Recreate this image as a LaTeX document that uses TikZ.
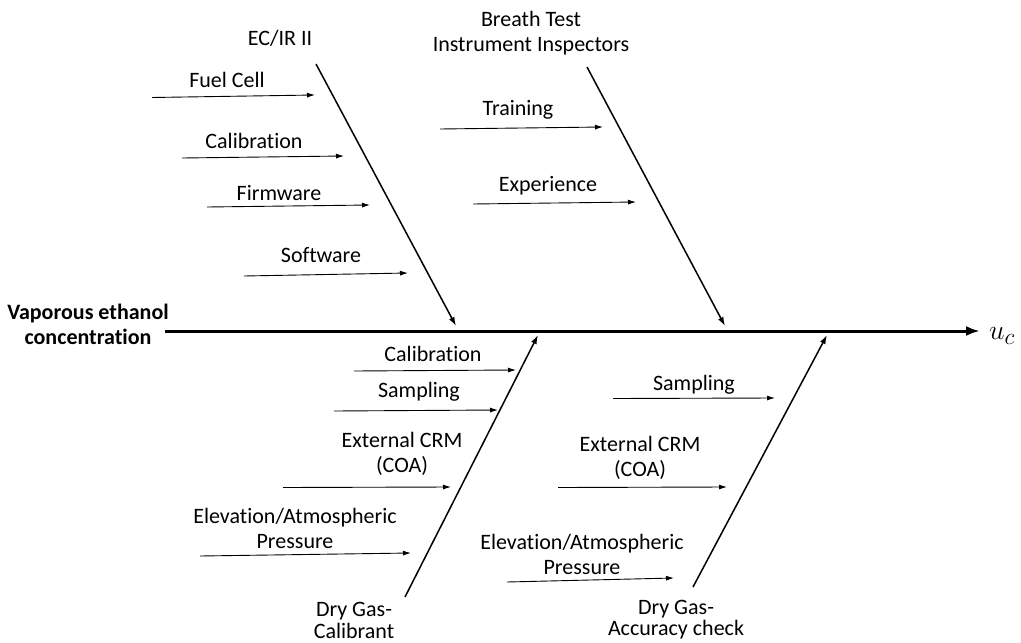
\documentclass[tikz,border=0pt]{standalone}
\usepackage{fontspec}
\setmainfont{Carlito}[Ligatures={NoCommon}]
\usetikzlibrary{arrows.meta}
\begin{document}
\begin{tikzpicture}[x=1pt,y=-1pt,
  lab/.style={inner sep=0pt,font=\fontsize{22}{25}\selectfont,align=center},
  spine/.style={line width=3pt,-{Latex[length=14pt,width=10pt]}},
  bone/.style={line width=1.5pt,-{Latex[length=9pt,width=6pt]}},
  sub/.style={line width=0.9pt,-{Latex[length=8pt,width=5pt]}}]
\useasboundingbox (0,0) rectangle (1021,643);
% head / effect
\node[lab,font=\fontsize{22}{25}\selectfont\bfseries] (eff) at (88,324) {Vaporous ethanol\\concentration};
\coordinate (s0) at (165,331);
\coordinate (s1) at (980,331);
\draw[spine] (s0) -- (s1);
\node[inner sep=0pt,anchor=west] (uc) at (989,336) {\scalebox{1.12}{\fontsize{24.88}{26}\selectfont$u_c$}};
% ---- top-left bone: EC/IR II
\node[lab] (ecir) at (280,38) {EC/IR II};
\coordinate (b1s) at (316,64);
\coordinate (b1e) at (456,326);
\draw[bone] (b1s) -- (b1e);
\node[lab] (fc) at (227,80) {Fuel Cell};
\coordinate (fc1) at (152,97.5); \coordinate (fc2) at (315,95);
\draw[sub] (fc1) -- (fc2);
\node[lab] (cal1) at (254,141) {Calibration};
\coordinate (cal1a) at (182,158); \coordinate (cal1b) at (344,156);
\draw[sub] (cal1a) -- (cal1b);
\node[lab] (fw) at (279,193) {Firmware};
\coordinate (fw1) at (207,207); \coordinate (fw2) at (370,205);
\draw[sub] (fw1) -- (fw2);
\node[lab] (sw) at (321,255) {Software};
\coordinate (sw1) at (244,276); \coordinate (sw2) at (408,273);
\draw[sub] (sw1) -- (sw2);
% ---- top-right bone: Breath Test Instrument Inspectors
\node[lab] (bt) at (531,33) {Breath Test\\Instrument Inspectors};
\coordinate (b2s) at (587,67);
\coordinate (b2e) at (725,326);
\draw[bone] (b2s) -- (b2e);
\node[lab] (tr) at (518,110) {Training};
\coordinate (tr1) at (440,129); \coordinate (tr2) at (603,127);
\draw[sub] (tr1) -- (tr2);
\node[lab] (ex) at (548,186) {Experience};
\coordinate (ex1) at (473,204); \coordinate (ex2) at (636,202);
\draw[sub] (ex1) -- (ex2);
% ---- bottom-left bone: Dry Gas-Calibrant
\node[lab,font=\fontsize{22}{22}\selectfont] (dgc) at (354,620) {Dry Gas-\\Calibrant};
\coordinate (b3s) at (405,597);
\coordinate (b3e) at (538,335);
\draw[bone] (b3s) -- (b3e);
\node[lab] (cal2) at (433,354) {Calibration};
\coordinate (cal2a) at (354,371); \coordinate (cal2b) at (516,370);
\draw[sub] (cal2a) -- (cal2b);
\node[lab] (sa1) at (419,392) {Sampling};
\coordinate (sa1a) at (334,411); \coordinate (sa1b) at (498,410);
\draw[sub] (sa1a) -- (sa1b);
\node[lab] (crm1) at (402,454) {External CRM\\(COA)};
\coordinate (crm1a) at (283,487.5); \coordinate (crm1b) at (451,487);
\draw[sub] (crm1a) -- (crm1b);
\node[lab] (el1) at (295,528) {Elevation/Atmospheric\\Pressure};
\coordinate (el1a) at (200,556); \coordinate (el1b) at (411,553);
\draw[sub] (el1a) -- (el1b);
% ---- bottom-right bone: Dry Gas-Accuracy check
\node[lab,font=\fontsize{22}{21}\selectfont] (dga) at (676,620) {Dry Gas-\\Accuracy check};
\coordinate (b4s) at (693,587);
\coordinate (b4e) at (827,335);
\draw[bone] (b4s) -- (b4e);
\node[lab] (sa2) at (694,385) {Sampling};
\coordinate (sa2a) at (613,398.5); \coordinate (sa2b) at (775,398);
\draw[sub] (sa2a) -- (sa2b);
\node[lab] (crm2) at (640,458) {External CRM\\(COA)};
\coordinate (crm2a) at (558,487.5); \coordinate (crm2b) at (727,487);
\draw[sub] (crm2a) -- (crm2b);
\node[lab] (el2) at (582,554) {Elevation/Atmospheric\\Pressure};
\coordinate (el2a) at (507,582); \coordinate (el2b) at (674,578);
\draw[sub] (el2a) -- (el2b);
\end{tikzpicture}
\end{document}
